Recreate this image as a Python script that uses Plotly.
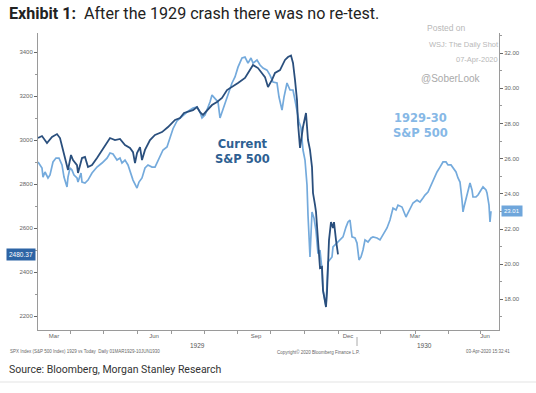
import plotly.graph_objects as go

# ---------------- data (x = session position along the shared time axis) ----------------
dark_x = [0, 4, 9, 14, 19, 22, 25, 29, 30, 33, 35, 39, 40, 44, 47, 50, 54, 59, 64, 69, 72, 77, 82, 87, 92,
          95, 97, 99, 102, 104, 107, 112, 117, 124, 130, 137, 142, 146, 149, 155, 159, 162, 165, 169, 174,
          179, 184, 189, 194, 200, 207, 212, 215, 220, 224, 227, 230, 234, 237, 242, 247, 250,
          253, 255, 257, 259, 260, 262, 265, 268, 270, 272, 274, 275, 277, 278, 280, 282, 284, 285, 288,
          289, 291, 293, 295, 296, 298, 300]
dark_y = [3009, 3018, 2986, 3014, 3027, 3009, 2955, 2877, 2864, 2932, 2909, 2886, 2850, 2918, 2923, 2877,
          2886, 2918, 2955, 2991, 3009, 3000, 3005, 2977, 2964, 2945, 2895, 2941, 2968, 2909, 2955, 3000,
          3023, 3036, 3059, 3091, 3100, 3123, 3127, 3136, 3150, 3127, 3114, 3136, 3159, 3173, 3191, 3227,
          3241, 3259, 3282, 3318, 3341, 3327, 3305, 3286, 3241, 3273, 3305, 3318, 3364, 3377,
          3384, 3350, 3273, 3182, 3077, 2964, 3059, 3123, 3000, 2955, 2877, 2759, 2705, 2673, 2545, 2418,
          2423, 2318, 2241, 2309, 2545, 2627, 2600, 2627, 2545, 2480.37]

light_x = [0, 4, 5, 7, 10, 12, 15, 18, 21, 24, 26, 29, 30, 32, 34, 36, 39, 40, 43, 44, 47, 50, 54, 59, 64,
           69, 72, 75, 79, 82, 84, 87, 90, 93, 95, 99, 101, 104, 107, 110, 114, 117, 120, 125, 129, 132,
           135, 139, 142, 146, 149, 155, 159, 162, 164, 167, 170, 172, 174, 177, 180, 182, 184, 187, 190,
           194, 197, 200, 204, 207, 210, 213, 215, 219, 222, 225, 229, 232, 235, 239, 241, 244, 246, 249,
           252, 255, 257, 259, 261, 263, 265, 267, 269, 270, 272, 274, 276, 278, 280, 282, 284, 285, 288,
           290, 294, 295, 299, 302, 305, 308, 310, 312, 314, 317, 319, 321, 323, 325, 327, 330, 333, 335,
           339, 342, 345, 349, 352, 354, 355, 358, 360, 364, 366, 368, 369, 372, 375, 379, 382, 385, 387,
           390, 394, 397, 399, 402, 405, 408, 410, 413, 415, 418, 420, 422, 424, 425, 426, 428, 430, 432,
           434, 435, 438, 440, 443, 445, 448, 449, 451, 452, 453]
light_y = [25.81, 25.47, 24.95, 25.24, 24.90, 25.07, 25.81, 26.03, 26.03, 25.64, 24.95, 24.39, 24.95, 25.47,
           25.35, 25.07, 24.90, 24.67, 25.18, 24.67, 24.61, 24.78, 25.18, 25.52, 25.75, 26.03, 26.32, 26.26,
           25.92, 26.03, 25.75, 25.92, 25.64, 25.18, 24.78, 24.33, 24.67, 24.90, 25.47, 25.64, 25.52, 25.52,
           25.92, 26.49, 26.66, 27.23, 27.70, 28.14, 28.31, 28.48, 28.65, 28.87, 28.93, 28.65, 28.31, 28.48,
           28.87, 29.22, 29.61, 29.44, 29.22, 28.31, 28.65, 29.16, 29.73, 30.30, 30.64, 31.20, 31.72, 31.77,
           31.43, 31.72, 31.43, 31.60, 31.32, 31.15, 31.03, 30.75, 30.35, 30.30, 29.50, 28.76, 29.50, 30.30,
           29.90, 29.90, 29.33, 28.59, 28.10, 27.75, 26.49, 25.92, 24.50, 22.80, 20.41, 22.97, 22.62, 21.90,
           20.60, 20.80, 19.67, 18.50, 17.62, 20.12, 20.41, 20.98, 21.20, 21.38, 21.55, 22.11, 22.40, 22.51,
           21.55, 21.49, 21.20, 20.24, 20.41, 20.81, 21.38, 21.26, 21.49, 21.55, 21.49, 21.38, 21.66, 22.06,
           22.51, 22.91, 23.19, 23.08, 23.36, 23.25, 22.97, 22.68, 22.80, 23.19, 23.48, 23.65, 23.53, 23.76,
           23.93, 24.10, 24.61, 24.95, 25.24, 25.52, 25.81, 25.81, 25.64, 25.64, 25.47, 25.24, 24.90, 24.67,
           23.65, 22.97, 23.25, 23.76, 24.22, 24.61, 24.22, 23.82, 23.82, 23.93, 24.22, 24.39, 24.22, 24.05,
           23.36, 22.40, 23.01]

month_label_pos = [16, 116, 218, 310, 377, 447]
month_labels = ["Mar", "Jun", "Sep", "Dec", "Mar", "Jun"]
month_tick_pos = [32, 65, 99, 133, 166, 199, 232, 266, 300, 342, 377, 410, 442]
year_labels = ["1929", "1930"]
year_label_pos = [159, 386]
year_sep_pos = 319

left_ticks = [2200, 2400, 2600, 2800, 3000, 3200, 3400]
right_ticks = [18, 20, 22, 24, 26, 28, 30, 32]

DARK = "#2a4f7d"
LIGHT = "#74aadc"

# plot area in pixels: x 38..499, y 33..330
L, R, T, B = 38, 499, 33, 330
W, H = 536, 393


def pxx(x):
    return (x - L) / (R - L)


def pxy(y):
    return (B - y) / (B - T)


fig = go.Figure()
# 1929-30 series on the base (right-hand) axis, current series on the overlaying left axis (drawn on top)
fig.add_trace(go.Scatter(x=light_x, y=light_y, yaxis="y", mode="lines",
                         line=dict(color=LIGHT, width=1.7), hoverinfo="skip", showlegend=False))
fig.add_trace(go.Scatter(x=dark_x, y=dark_y, yaxis="y2", mode="lines",
                         line=dict(color=DARK, width=1.8), hoverinfo="skip", showlegend=False))

tickfont = dict(family="Liberation Sans, Arial", size=6, color="#666")

fig.update_layout(
    width=W, height=H,
    margin=dict(l=L, r=W - R, t=T, b=H - B, autoexpand=False),
    paper_bgcolor="white", plot_bgcolor="white",
    xaxis=dict(range=[0, R - L], showgrid=False, zeroline=False, showline=True,
               linecolor="#9a9a9a", linewidth=1, tickmode="array",
               tickvals=month_label_pos, ticktext=month_labels, ticks="",
               tickfont=tickfont,
               minor=dict(tickmode="array", tickvals=month_tick_pos, ticks="outside",
                          ticklen=3, tickcolor="#9a9a9a", showgrid=False)),
    yaxis2=dict(range=[2136.4, 3486.4], overlaying="y", side="left", showgrid=False,
                zeroline=False, showline=True,
                linecolor="#9a9a9a", linewidth=1, tickmode="array", tickvals=left_ticks,
                ticks="outside", ticklen=3, tickcolor="#666", tickfont=tickfont,
                minor=dict(dtick=100, tick0=2200, ticks="outside", ticklen=2, tickcolor="#999",
                           showgrid=False)),
    yaxis=dict(range=[16.26, 33.14], side="right", showgrid=False,
               zeroline=False, showline=True, linecolor="#9a9a9a", linewidth=1,
               tickmode="array", tickvals=right_ticks, tickformat=".2f",
               ticks="outside", ticklen=3, tickcolor="#666", tickfont=tickfont,
               minor=dict(dtick=1, tick0=18, ticks="outside", ticklen=2, tickcolor="#999",
                          showgrid=False)),
)

ann = []
# title
ann.append(dict(x=pxx(7), y=pxy(13), xref="paper", yref="paper", xanchor="left", yanchor="middle",
                text="<b>Exhibit 1:</b>\u00a0 After the 1929 crash there was no re-test.",
                font=dict(family="Roboto, Arial", size=16.1, color="#222"), showarrow=False))
# watermark
wm = "#b8b8b8"
ann.append(dict(x=pxx(446), y=pxy(28), xref="paper", yref="paper", xanchor="center", yanchor="middle",
                text="Posted on", font=dict(family="Liberation Sans, Arial", size=8.5, color=wm), showarrow=False))
ann.append(dict(x=pxx(501), y=pxy(44), xref="paper", yref="paper", xanchor="right", yanchor="middle",
                text="WSJ: The Daily Shot", font=dict(family="Liberation Sans, Arial", size=7.5, color=wm), showarrow=False))
ann.append(dict(x=pxx(500), y=pxy(59), xref="paper", yref="paper", xanchor="right", yanchor="middle",
                text="07-Apr-2020", font=dict(family="Liberation Sans, Arial", size=7.5, color=wm), showarrow=False))
ann.append(dict(x=pxx(451), y=pxy(79), xref="paper", yref="paper", xanchor="center", yanchor="middle",
                text="@SoberLook", font=dict(family="Liberation Sans, Arial", size=10, color="#aaa"), showarrow=False))
# series labels
ann.append(dict(x=pxx(242), y=pxy(151), xref="paper", yref="paper", xanchor="center", yanchor="middle",
                text="<b>Current<br>S&P 500</b>", align="center",
                font=dict(family="DejaVu Sans", size=11.5, color="#2e5f92"), showarrow=False))
ann.append(dict(x=pxx(420), y=pxy(125), xref="paper", yref="paper", xanchor="center", yanchor="middle",
                text="<b>1929-30<br>S&P 500</b>", align="center",
                font=dict(family="DejaVu Sans", size=11.5, color="#86b8e6"), showarrow=False))
# last-value boxes
ann.append(dict(x=pxx(36), y=dark_y[-1], xref="paper", yref="y2", xanchor="right", yanchor="middle",
                text=f"{dark_y[-1]:.2f}", bgcolor="#2d64a5", borderpad=2,
                font=dict(family="Liberation Sans, Arial", size=6.5, color="white"), showarrow=False))
ann.append(dict(x=pxx(501), y=light_y[-1], xref="paper", yref="y", xanchor="left", yanchor="middle",
                text=f"{light_y[-1]:.2f}", bgcolor="#6fa6db", borderpad=2,
                font=dict(family="Liberation Sans, Arial", size=6, color="white"), showarrow=False))
# years
for t, p in zip(year_labels, year_label_pos):
    ann.append(dict(x=p, y=pxy(345), xref="x", yref="paper", xanchor="center", yanchor="middle",
                    text=t, font=dict(family="Liberation Sans, Arial", size=6.5, color="#555"), showarrow=False))
# footer
ff = dict(family="Liberation Sans, Arial", size=4.5, color="#666")
ann.append(dict(x=pxx(8), y=pxy(352), xref="paper", yref="paper", xanchor="left", yanchor="middle",
                text="SPX Index (S&P 500 Index) 1929 vs Today  Daily 01MAR1929-10JUN1930", font=ff, showarrow=False))
ann.append(dict(x=pxx(318), y=pxy(352), xref="paper", yref="paper", xanchor="center", yanchor="middle",
                text="Copyright\u00a9 2020 Bloomberg Finance L.P.", font=ff, showarrow=False))
ann.append(dict(x=pxx(512), y=pxy(352), xref="paper", yref="paper", xanchor="right", yanchor="middle",
                text="03-Apr-2020 15:32:41", font=ff, showarrow=False))
ann.append(dict(x=pxx(7), y=pxy(369), xref="paper", yref="paper", xanchor="left", yanchor="middle",
                text="Source: Bloomberg, Morgan Stanley Research",
                font=dict(family="Roboto, Arial", size=10.5, color="#333"), showarrow=False))
fig.update_layout(annotations=ann)

fig.add_shape(type="line", xref="x", yref="paper", x0=year_sep_pos, x1=year_sep_pos,
              y0=pxy(337), y1=pxy(346), line=dict(color="#aaa", width=1))
fig.add_shape(type="line", xref="paper", yref="paper", x0=pxx(0), x1=pxx(536),
              y0=pxy(382), y1=pxy(382), line=dict(color="#e3e3e3", width=1))

fig.write_html("out.html", config={"displayModeBar": False},
               post_script="document.body.style.margin='0';")
